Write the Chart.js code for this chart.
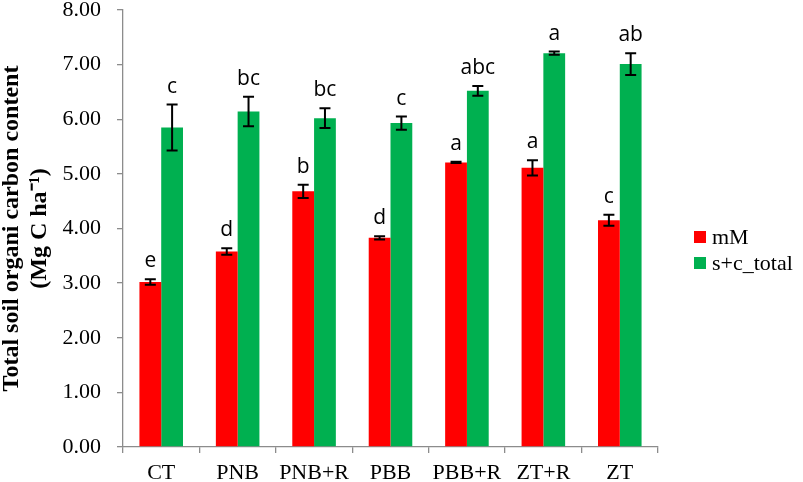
<!DOCTYPE html>
<html>
<head>
<meta charset="utf-8">
<script src="https://cdn.jsdelivr.net/npm/chart.js@4.4.1/dist/chart.umd.min.js"></script>
<style>
  body { margin: 0; background: #fff; }
  .chart-wrap { width: 803px; height: 482px; position: relative; }
</style>
</head>
<body>
<div class="chart-wrap"><canvas id="chart-bar"></canvas></div>
<script>
// values
const categories = ["CT", "PNB", "PNB+R", "PBB", "PBB+R", "ZT+R", "ZT"];
const mMValues = [3.02, 3.58, 4.68, 3.83, 5.21, 5.11, 4.15];
const mMErrors = [0.05, 0.06, 0.12, 0.03, 0.01, 0.14, 0.10];
const mMLetters = ["e", "d", "b", "d", "a", "a", "c"];
const totalValues = [5.85, 6.14, 6.02, 5.93, 6.52, 7.21, 7.01];
const totalErrors = [0.42, 0.27, 0.18, 0.12, 0.09, 0.03, 0.20];
const totalLetters = ["c", "bc", "bc", "c", "abc", "a", "ab"];
const yTitle = ["Total soil organi carbon content", "(Mg C ha\u207B\u00B9)"];

const axisGray = "#8c8c8c";
const serif = "'Liberation Serif', 'Times New Roman', serif";

// error bars, significance letters and the legend on the right
const extras = {
  id: "extras",
  afterDatasetsDraw(chart) {
    const { ctx, scales: { y } } = chart;
    ctx.save();
    chart.data.datasets.forEach((ds, di) => {
      const meta = chart.getDatasetMeta(di);
      meta.data.forEach((bar, i) => {
        const v = ds.data[i];
        const e = ds.errors[i];
        const yTop = y.getPixelForValue(v + e);
        const yBot = y.getPixelForValue(v - e);
        const x = bar.x;
        ctx.strokeStyle = "#000";
        ctx.lineWidth = 2;
        ctx.beginPath();
        ctx.moveTo(x, yTop);
        ctx.lineTo(x, yBot);
        ctx.moveTo(x - 5.5, yTop);
        ctx.lineTo(x + 5.5, yTop);
        ctx.moveTo(x - 5.5, yBot);
        ctx.lineTo(x + 5.5, yBot);
        ctx.stroke();

        ctx.fillStyle = "#000";
        ctx.font = "21px 'Open Sans', 'Noto Sans', sans-serif";
        ctx.textAlign = "center";
        ctx.textBaseline = "alphabetic";
        ctx.fillText(ds.letters[i], x, yTop - 12);
      });
    });

    // legend
    ctx.font = "22px " + serif;
    ctx.textAlign = "left";
    ctx.textBaseline = "middle";
    chart.data.datasets.forEach((ds, di) => {
      const ly = 237 + di * 26;
      ctx.fillStyle = ds.backgroundColor;
      ctx.fillRect(694, ly - 6, 12, 12);
      ctx.fillStyle = "#000";
      ctx.fillText(ds.label, 712, ly + 1);
    });
    ctx.restore();
  },
};

const ctx1 = document.getElementById("chart-bar").getContext("2d");
new Chart(ctx1, {
  type: "bar",
  data: {
    labels: categories,
    datasets: [
      {
        label: "mM",
        data: mMValues,
        errors: mMErrors,
        letters: mMLetters,
        backgroundColor: "#ff0000",
        borderWidth: 0,
        categoryPercentage: 0.57,
        barPercentage: 1.0,
      },
      {
        label: "s+c_total",
        data: totalValues,
        errors: totalErrors,
        letters: totalLetters,
        backgroundColor: "#00b050",
        borderWidth: 0,
        categoryPercentage: 0.57,
        barPercentage: 1.0,
      },
    ],
  },
  options: {
    responsive: true,
    maintainAspectRatio: false,
    animation: false,
    layout: {
      padding: { top: 10, right: 145, left: 0, bottom: 0 },
    },
    plugins: {
      legend: { display: false },
      tooltip: { enabled: false },
    },
    scales: {
      x: {
        afterFit(scale) {
          scale.height = 35;
          scale.paddingLeft = 0;
          scale.paddingRight = 0;
        },
        grid: {
          offset: true,
          drawOnChartArea: false,
          drawTicks: true,
          tickLength: 6,
          color: axisGray,
          lineWidth: 1.3,
        },
        border: { display: true, color: axisGray, width: 1.3 },
        ticks: {
          color: "#000",
          padding: 7,
          font: { size: 22, family: serif },
        },
      },
      y: {
        min: 0,
        max: 8,
        afterFit(scale) {
          scale.width = 123;
          scale.paddingTop = 0;
          scale.paddingBottom = 0;
        },
        grid: {
          drawOnChartArea: false,
          drawTicks: true,
          tickLength: 6,
          color: axisGray,
          lineWidth: 1.3,
        },
        border: { display: true, color: axisGray, width: 1.3 },
        ticks: {
          stepSize: 1,
          color: "#000",
          padding: 16,
          font: { size: 22, family: serif },
          callback: (v) => Number(v).toFixed(2),
        },
        title: {
          display: true,
          text: yTitle,
          color: "#000",
          padding: { top: -3, bottom: 0 },
          font: { size: 24, weight: "bold", family: serif, lineHeight: 1.2 },
        },
      },
    },
  },
  plugins: [extras],
});
</script>
</body>
</html>
